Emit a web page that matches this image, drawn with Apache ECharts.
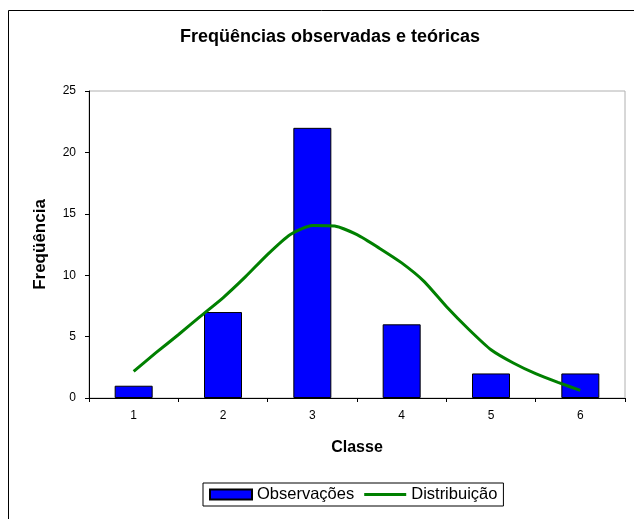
<!DOCTYPE html>
<html>
<head>
<meta charset="utf-8">
<script src="https://cdn.jsdelivr.net/npm/echarts@6/dist/echarts.min.js"></script>
<style>
html,body{margin:0;padding:0;background:#fff;}
#chart{width:634px;height:519px;}
</style>
</head>
<body>
<div id="chart"></div>
<script>
const categories = ['1', '2', '3', '4', '5', '6'];
const observacoes = [1, 7, 22, 6, 2, 2];
const distX = [1, 1.25, 1.5, 1.75, 2, 2.25, 2.5, 2.75, 3, 3.25, 3.5, 3.75, 4, 4.25, 4.5, 4.75, 5, 5.25, 5.5, 5.75, 6];
const distY = [2.17, 3.69, 5.15, 6.67, 8.16, 9.86, 11.7, 13.3, 14.05, 14.0, 13.3, 12.2, 11.0, 9.5, 7.45, 5.6, 3.93, 2.85, 1.98, 1.27, 0.62];
const yTicks = [0, 5, 10, 15, 20, 25];

const FONT = '"Liberation Sans", Arial, sans-serif';
const chart = echarts.init(document.getElementById('chart'), null, {renderer: 'canvas'});
chart.setOption({
  animation: false,
  backgroundColor: '#fff',
  textStyle: {fontFamily: FONT, color: '#000'},
  graphic: [{
    type: 'rect', z: -1,
    shape: {x: 8.5, y: 10.5, width: 700, height: 600},
    style: {fill: 'none', stroke: '#000', lineWidth: 1}
  }],
  title: {
    text: 'Freqüências observadas e teóricas',
    left: 325, top: 23, textAlign: 'center',
    textStyle: {fontFamily: FONT, fontSize: 18, fontWeight: 'bold', color: '#000'}
  },
  legend: {
    left: 203, top: 483,
    padding: [3, 6, 3, 6],
    borderColor: '#000', borderWidth: 1,
    itemWidth: 42, itemHeight: 10, itemGap: 10,
    textStyle: {fontFamily: FONT, fontSize: 16.5, color: '#000'},
    data: [
      {name: 'Observações', icon: 'rect'},
      {name: 'Distribuição', icon: 'path://M0,0 L40,0 L40,3 L0,3 Z', itemStyle: {color: '#008000', borderWidth: 0}}
    ]
  },
  grid: {
    left: 89, right: 9, top: 91, bottom: 121,
    show: true, borderColor: '#b0b0b0', borderWidth: 1, backgroundColor: 'transparent'
  },
  xAxis: [{
    type: 'category', data: categories, boundaryGap: true,
    name: 'Classe', nameLocation: 'middle', nameGap: 42,
    nameTextStyle: {fontFamily: FONT, fontSize: 16, fontWeight: 'bold', color: '#000'},
    axisLine: {lineStyle: {color: '#000', width: 1}},
    axisTick: {show: true, length: 4, inside: false, lineStyle: {color: '#000'}},
    axisLabel: {fontFamily: FONT, fontSize: 12, color: '#000', margin: 12},
    splitLine: {show: false}
  }, {
    type: 'value', min: 0.5, max: 6.5, show: false, position: 'bottom'
  }],
  yAxis: {
    type: 'value', min: 0, max: 25, interval: 5,
    name: 'Freqüência', nameLocation: 'middle', nameGap: 40, nameRotate: 90,
    nameTextStyle: {fontFamily: FONT, fontSize: 17, fontWeight: 'bold', color: '#000'},
    axisLine: {show: true, lineStyle: {color: '#000', width: 1}},
    axisTick: {show: true, length: 4, inside: false, lineStyle: {color: '#000'}},
    axisLabel: {fontFamily: FONT, fontSize: 12, color: '#000', margin: 13,
      formatter: v => yTicks.includes(v) ? String(v) : ''},
    splitLine: {show: false}
  },
  series: [{
    name: 'Observações', type: 'bar', xAxisIndex: 0,
    data: observacoes, barWidth: 38,
    itemStyle: {color: '#0000ff', borderColor: '#000', borderWidth: 1}
  }, {
    name: 'Distribuição', type: 'line', xAxisIndex: 1,
    data: distX.map((x, i) => [x, distY[i]]),
    showSymbol: false, symbol: 'none', smooth: 0.2,
    lineStyle: {color: '#008000', width: 3},
    itemStyle: {color: '#008000'}
  }]
});
</script>
</body>
</html>
